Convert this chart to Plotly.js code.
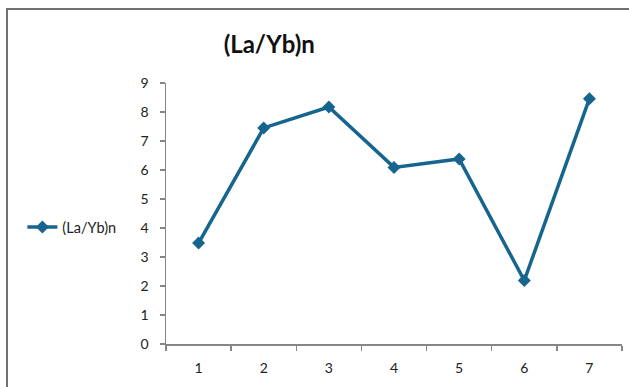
<!DOCTYPE html>
<html>
<head>
<meta charset="utf-8">
<script src="https://cdn.plot.ly/plotly-3.0.1.min.js"></script>
<style>
  html, body { margin: 0; padding: 0; background: #fff; }
  #wrap { position: relative; width: 629px; height: 387px; overflow: hidden; }
  #frame { position: absolute; left: 6px; top: 8px; right: -4px; bottom: -4px;
           border-left: 2px solid #707070; border-top: 2px solid #707070; pointer-events: none; }
  #chart { position: absolute; left: 0; top: 0; width: 629px; height: 387px; }
</style>
</head>
<body>
<div id="wrap">
  <div id="chart"></div>
  <div id="frame"></div>
</div>
<script>
// Sample numbers along the x axis
const samples = ['1', '2', '3', '4', '5', '6', '7'];
// Chondrite-normalised La/Yb ratio for each sample
const laYbN = [3.48, 7.45, 8.17, 6.09, 6.38, 2.19, 8.46];
const yTicks = [0, 1, 2, 3, 4, 5, 6, 7, 8, 9];

const seriesColor = '#16658f';
const font = "Lato, 'Open Sans', sans-serif";

const trace = {
  x: samples,
  y: laYbN,
  name: '(La/Yb)n',
  type: 'scatter',
  mode: 'lines+markers',
  line: { color: seriesColor, width: 3.5 },
  marker: { symbol: 'diamond', size: 10, color: seriesColor }
};

const layout = {
  width: 629,
  height: 387,
  margin: { l: 166, r: 7, t: 83, b: 43 },
  paper_bgcolor: '#ffffff',
  plot_bgcolor: '#ffffff',
  font: { family: font, color: '#222', size: 14 },
  title: {
    text: '<b>(La/Yb)n</b>',
    font: { family: font, size: 24, color: '#111' },
    xref: 'container', yref: 'container',
    x: 0.428, xanchor: 'center',
    y: 0.884, yanchor: 'middle'
  },
  xaxis: {
    type: 'category',
    range: [-0.5, 6.5],
    tickson: 'boundaries',
    ticks: 'outside', ticklen: 5, tickwidth: 1.5, tickcolor: '#868686',
    ticklabelstandoff: 11,
    showline: true, linecolor: '#868686', linewidth: 1.5,
    showgrid: false, zeroline: false,
    tickfont: { family: font, size: 14, color: '#222' },
    fixedrange: true
  },
  yaxis: {
    range: [0, 9],
    tickvals: yTicks,
    ticks: 'outside', ticklen: 5, tickwidth: 1.5, tickcolor: '#868686',
    ticklabelstandoff: 8,
    showline: true, linecolor: '#868686', linewidth: 1.5,
    showgrid: false, zeroline: false,
    tickfont: { family: font, size: 14, color: '#222' },
    fixedrange: true
  },
  showlegend: true,
  legend: {
    x: -0.315, xanchor: 'left',
    y: 0.448, yanchor: 'middle',
    font: { family: font, size: 14.5, color: '#222' },
    bgcolor: 'rgba(0,0,0,0)'
  }
};

Plotly.newPlot('chart', [trace], layout, { staticPlot: true, displayModeBar: false });
</script>
</body>
</html>
